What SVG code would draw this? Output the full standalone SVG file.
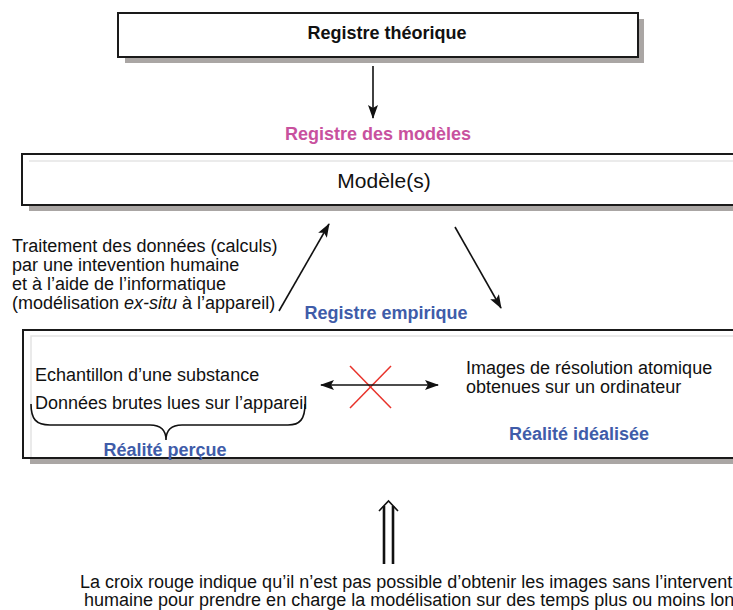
<svg xmlns="http://www.w3.org/2000/svg" width="733" height="610" viewBox="0 0 733 610">
<defs>
<style>
.box{fill:#fff;stroke:#1a1a1a;stroke-width:2}
.shadow{fill:#aaa6a4}
.inner{fill:none;stroke:#e4e4e4;stroke-width:1.5}
.t{font-family:"Liberation Sans",Arial,sans-serif;fill:#111;font-size:18px}
.b{font-family:"Liberation Sans",Arial,sans-serif;font-weight:bold;font-size:18px}
.pink{fill:#c8519e}
.blue{fill:#3f5ca9}
.conn{stroke:#111;stroke-width:1.6;fill:none}
</style>
<marker id="ah" viewBox="0 0 14 10" refX="13" refY="5" markerWidth="14" markerHeight="10" markerUnits="userSpaceOnUse" orient="auto-start-reverse">
<path d="M0,0 L14,5 L0,10 L3,5 z" fill="#111"/>
</marker>
</defs>
<rect width="733" height="610" fill="#fff"/>

<g id="registre-theorique">
<rect class="shadow" x="125" y="19" width="519" height="44"/>
<rect class="box" x="118" y="13" width="520" height="44"/>
<text class="b" x="387" y="39" text-anchor="middle" fill="#111">Registre théorique</text>
</g>

<g id="registre-modeles-label">
<text class="b pink" x="378" y="140" text-anchor="middle">Registre des modèles</text>
</g>

<g id="modeles">
<rect class="shadow" x="29" y="160" width="720" height="51"/>
<rect class="box" x="22" y="154" width="730" height="51"/>
<line class="inner" x1="29" y1="161" x2="733" y2="161"/>
<text class="t" x="384" y="188" style="font-size:21px" text-anchor="middle">Modèle(s)</text>
</g>

<g id="traitement">
<text class="t">
<tspan x="12" y="252">Traitement des données (calculs)</tspan>
<tspan x="12" y="271">par une intevention humaine</tspan>
<tspan x="12" y="290">et à l’aide de l’informatique</tspan>
<tspan x="12" y="309">(modélisation <tspan font-style="italic">ex-situ</tspan> à l’appareil)</tspan>
</text>
</g>

<g id="registre-empirique-label">
<text class="b blue" x="386" y="319" text-anchor="middle">Registre empirique</text>
</g>

<g id="registre-empirique">
<rect class="shadow" x="30" y="336" width="720" height="128"/>
<rect class="box" x="23" y="330" width="730" height="128"/>
<path class="inner" d="M31,457 V336 H733"/>
<text class="t" x="35" y="381">Echantillon d’une substance</text>
<text class="t" x="35" y="409">Données brutes lues sur l’appareil</text>
<path d="M31,404 C31,419 36,425 50,425 L150,425 C160,425 166,430 166,440 C166,430 172,425 182,425 L288,425 C300,425 305,419 305,404" fill="none" stroke="#111" stroke-width="1.6"/>
<text class="b blue" x="165" y="456" text-anchor="middle">Réalité perçue</text>
<text class="t" x="466" y="374">Images de résolution atomique</text>
<text class="t" x="466" y="393">obtenues sur un ordinateur</text>
<text class="b blue" x="579" y="440" text-anchor="middle">Réalité idéalisée</text>
<line x1="350" y1="366" x2="391" y2="408" stroke="#e8322a" stroke-width="1.5"/>
<line x1="391" y1="366" x2="350" y2="408" stroke="#e8322a" stroke-width="1.5"/>
</g>

<g id="connectors">
<line class="conn" x1="373" y1="66" x2="373" y2="118" marker-end="url(#ah)"/>
<line class="conn" x1="279" y1="311" x2="329" y2="224" marker-end="url(#ah)"/>
<line class="conn" x1="455" y1="227" x2="501" y2="308" marker-end="url(#ah)"/>
<line class="conn" x1="321" y1="385" x2="438" y2="385" marker-start="url(#ah)" marker-end="url(#ah)"/>
<line x1="384" y1="506" x2="384" y2="564" stroke="#111" stroke-width="2.6"/>
<line x1="393" y1="506" x2="393" y2="564" stroke="#111" stroke-width="2.6"/>
<path d="M379,511 L388.5,501 L398,511" fill="none" stroke="#111" stroke-width="1.6"/>
</g>

<g id="note">
<text class="t" x="80" y="588">La croix rouge indique qu’il n’est pas possible d’obtenir les images sans l’intervent</text>
<text class="t" x="84" y="606">humaine pour prendre en charge la modélisation sur des temps plus ou moins lon</text>
</g>
</svg>
